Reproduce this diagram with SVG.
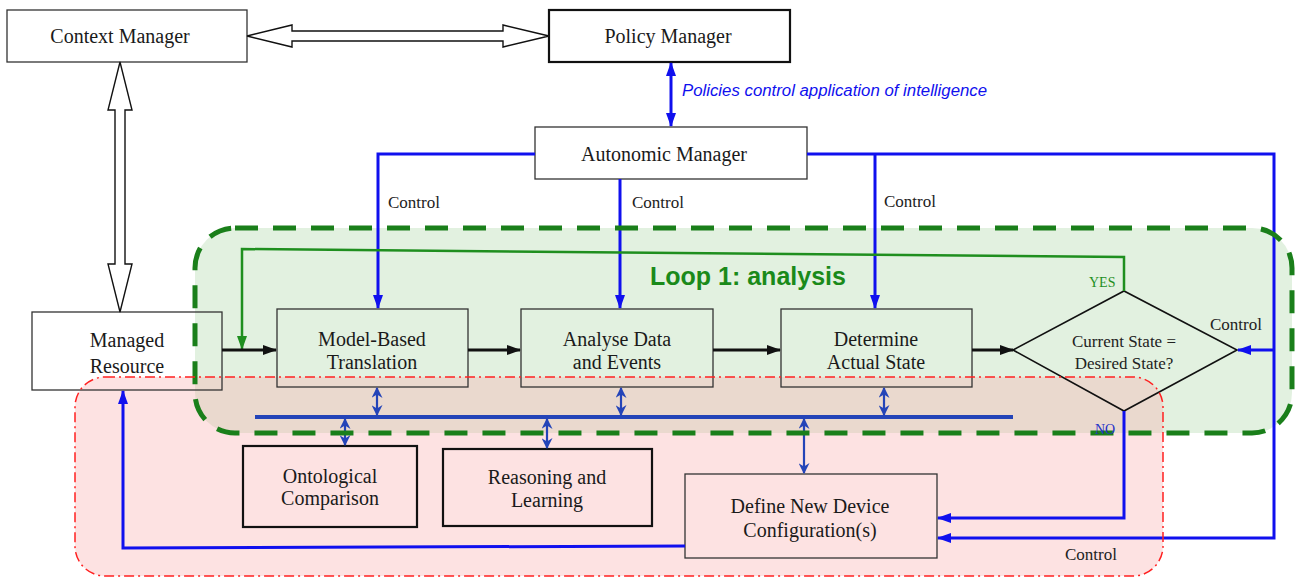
<svg xmlns="http://www.w3.org/2000/svg" width="1297" height="578" viewBox="0 0 1297 578">
<style>
.box{fill:none;stroke:#333;stroke-width:1.3}
.boxk{fill:none;stroke:#111;stroke-width:2.2}
.t{font-family:"Liberation Serif","Times New Roman",serif;font-size:20px;fill:#1a1a1a;text-anchor:middle}
.c{font-family:"Liberation Serif","Times New Roman",serif;font-size:17px;fill:#222}
.ctl{fill:none;stroke:#1010ee;stroke-width:3}
.blk{fill:none;stroke:#111;stroke-width:3}
.bus{fill:none;stroke:#2444b8;stroke-width:2.2}
.hol{fill:#fff;stroke:#111;stroke-width:1.4}
</style>
<defs>
<marker id="ab" viewBox="0 0 14 10" refX="13" refY="5" markerWidth="14" markerHeight="10" markerUnits="userSpaceOnUse" orient="auto-start-reverse"><path d="M0,0 L14,5 L0,10 z" fill="#1010ee"/></marker>
<marker id="ak" viewBox="0 0 14 10" refX="13" refY="5" markerWidth="14" markerHeight="10" markerUnits="userSpaceOnUse" orient="auto"><path d="M0,0 L14,5 L0,10 z" fill="#111"/></marker>
<marker id="ag" viewBox="0 0 14 10" refX="13" refY="5" markerWidth="14" markerHeight="10" markerUnits="userSpaceOnUse" orient="auto"><path d="M0,0 L14,5 L0,10 z" fill="#1f8f1f"/></marker>
<marker id="as" viewBox="0 0 10 10" refX="9" refY="5" markerWidth="11" markerHeight="11" markerUnits="userSpaceOnUse" orient="auto-start-reverse"><path d="M0,0 L10,5 L0,10 L3,5 z" fill="#2444b8"/></marker>
</defs>

<g id="regions">
<rect x="195" y="228" width="1097" height="205" rx="40" fill="#c6e3c2" fill-opacity="0.5"/>
<rect x="75" y="377" width="1088" height="199" rx="30" fill="#f9acac" fill-opacity="0.35"/>
</g>

<g id="context-manager"><rect class="box" x="7" y="10" width="240" height="52"/><text class="t" x="120" y="43">Context Manager</text></g>
<g id="policy-manager"><rect class="boxk" x="549" y="10" width="241" height="52"/><text class="t" x="668" y="43">Policy Manager</text></g>
<g id="autonomic-manager"><rect class="box" x="535" y="127" width="272" height="52"/><text class="t" x="664" y="161">Autonomic Manager</text></g>
<g id="managed-resource"><rect class="box" x="32" y="312" width="190" height="78"/><text class="t" x="127" y="347">Managed</text><text class="t" x="127" y="373">Resource</text></g>
<g id="model-based"><rect class="box" x="277" y="309" width="191" height="78"/><text class="t" x="372" y="346">Model-Based</text><text class="t" x="372" y="369">Translation</text></g>
<g id="analyse"><rect class="box" x="521" y="309" width="192" height="78"/><text class="t" x="617" y="346">Analyse Data</text><text class="t" x="617" y="369">and Events</text></g>
<g id="determine"><rect class="box" x="781" y="309" width="191" height="78"/><text class="t" x="876" y="346">Determine</text><text class="t" x="876" y="369">Actual State</text></g>
<g id="decision"><path d="M1013,350 L1124,291 L1237,350 L1124,411 Z" fill="none" stroke="#111" stroke-width="1.6"/><text class="c" x="1124" y="347" text-anchor="middle">Current State =</text><text class="c" x="1124" y="369" text-anchor="middle">Desired State?</text></g>
<g id="ontological"><rect class="boxk" x="243" y="446" width="174" height="81"/><text class="t" x="330" y="483">Ontological</text><text class="t" x="330" y="505">Comparison</text></g>
<g id="reasoning"><rect class="boxk" x="443" y="449" width="209" height="77"/><text class="t" x="547" y="484">Reasoning and</text><text class="t" x="547" y="507">Learning</text></g>
<g id="define-new"><rect class="box" x="685" y="474" width="252" height="84"/><text class="t" x="810" y="513">Define New Device</text><text class="t" x="810" y="537">Configuration(s)</text></g>

<g id="connectors">
<polygon class="hol" points="247,36 292,25 292,31 503,31 503,25 549,36 503,47 503,41 292,41 292,47"/>
<polygon class="hol" points="120,62 108,110 115,110 115,264 108,264 120,312 132,264 125,264 125,110 132,110"/>
<line class="ctl" x1="671" y1="63" x2="671" y2="126" marker-start="url(#ab)" marker-end="url(#ab)"/>
<polyline class="ctl" points="535,154 378,154 378,308" marker-end="url(#ab)"/>
<polyline class="ctl" points="620,179 620,308" marker-end="url(#ab)"/>
<polyline class="ctl" points="807,154 1274,154 1274,538 938,538" marker-end="url(#ab)"/>
<polyline class="ctl" points="875,154 875,308" marker-end="url(#ab)"/>
<polyline class="ctl" points="1274,350 1238,350" marker-end="url(#ab)"/>
<polyline class="ctl" points="1124,411 1124,518 938,518" stroke-width="2.5" marker-end="url(#ab)"/>
<polyline class="ctl" points="685,546 123,548 123,391" stroke-width="2.5" marker-end="url(#ab)"/>
<polyline fill="none" stroke="#1f8f1f" stroke-width="2.5" points="1124,291 1124,257 242,249 242,349" marker-end="url(#ag)"/>
<line class="blk" x1="222" y1="350" x2="276" y2="350" marker-end="url(#ak)"/>
<line class="blk" x1="468" y1="350" x2="520" y2="350" marker-end="url(#ak)"/>
<line class="blk" x1="713" y1="350" x2="780" y2="350" marker-end="url(#ak)"/>
<line class="blk" x1="972" y1="350" x2="1013" y2="350" marker-end="url(#ak)"/>
<line x1="255" y1="417" x2="1013" y2="417" stroke="#2444b8" stroke-width="4"/>
<line class="bus" x1="377" y1="388" x2="377" y2="415" marker-start="url(#as)" marker-end="url(#as)"/>
<line class="bus" x1="621" y1="388" x2="621" y2="415" marker-start="url(#as)" marker-end="url(#as)"/>
<line class="bus" x1="884" y1="388" x2="884" y2="415" marker-start="url(#as)" marker-end="url(#as)"/>
<line class="bus" x1="345" y1="419" x2="345" y2="445" marker-start="url(#as)" marker-end="url(#as)"/>
<line class="bus" x1="547" y1="419" x2="547" y2="448" marker-start="url(#as)" marker-end="url(#as)"/>
<line class="bus" x1="804" y1="419" x2="804" y2="473" marker-start="url(#as)" marker-end="url(#as)"/>
</g>

<g id="region-borders">
<rect x="195" y="228" width="1097" height="205" rx="40" fill="none" stroke="#1a7f1a" stroke-width="5" stroke-dasharray="23,15"/>
<rect x="75" y="377" width="1088" height="199" rx="30" fill="none" stroke="#ff2020" stroke-width="1.5" stroke-dasharray="10,4,2,4"/>
</g>

<g id="labels">
<text x="682" y="96" font-family="Liberation Sans, Arial, sans-serif" font-style="italic" font-size="16.8" fill="#1010ee">Policies control application of intelligence</text>
<text x="650" y="285" font-family="Liberation Sans, Arial, sans-serif" font-weight="bold" font-size="25" fill="#1a8a1a">Loop 1: analysis</text>
<text class="c" x="388" y="208">Control</text>
<text class="c" x="632" y="208">Control</text>
<text class="c" x="884" y="207">Control</text>
<text class="c" x="1210" y="330">Control</text>
<text class="c" x="1065" y="560">Control</text>
<text x="1089" y="287" font-family="Liberation Serif, serif" font-size="14" fill="#1f8f1f">YES</text>
<text x="1095" y="434" font-family="Liberation Serif, serif" font-size="14" fill="#2430c8">NO</text>
</g>
</svg>
